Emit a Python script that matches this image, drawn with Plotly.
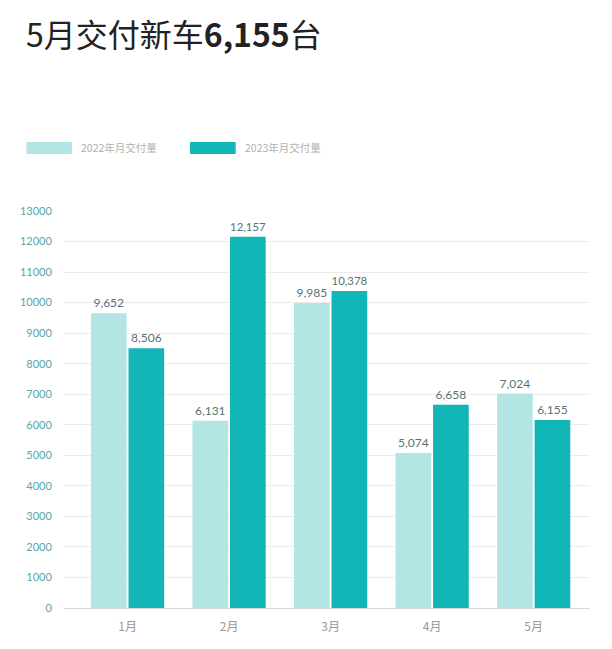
import plotly.graph_objects as go

months = ["1月", "2月", "3月", "4月", "5月"]
series_names = ["2022年月交付量", "2023年月交付量"]
deliveries_2022 = [9652, 6131, 9985, 5074, 7024]
deliveries_2023 = [8506, 12157, 10378, 6658, 6155]
y_ticks = list(range(0, 14000, 1000))

light = "#b4e5e5"
dark = "#13b6b6"
OFF = 8  # page body margin
W, H = 612 - OFF, 649 - OFF
ml, mr, mt, mb = 60 - OFF, 22, 211 - OFF, 41
pw, ph = W - ml - mr, H - mt - mb


def px_x(x):
    return (x - OFF - ml) / pw


def px_y(y):
    return (H - mb - (y - OFF)) / ph


fig = go.Figure()
for name, vals, col in [(series_names[0], deliveries_2022, light),
                        (series_names[1], deliveries_2023, dark)]:
    fig.add_trace(go.Bar(
        x=months, y=vals, name=name, marker=dict(color=col, line_width=0),
        text=[f"{v:,}" for v in vals], textposition="outside",
        textfont=dict(color="#5b7272", size=12, family="Lato"),
        cliponaxis=False, showlegend=False,
    ))

# title
fig.add_annotation(
    x=px_x(20), y=px_y(33), xref="paper", yref="paper", xanchor="left", yanchor="middle",
    text="5月交付新车<b>6,155</b>台", showarrow=False,
    font=dict(size=32, color="#222", family="Noto Sans CJK SC"),
)

# legend drawn by hand (wide swatches)
for i, (name, col) in enumerate([(series_names[0], light), (series_names[1], dark)]):
    x0 = 22 + i * 165
    fig.add_shape(type="rect", xref="paper", yref="paper",
                  x0=px_x(x0), x1=px_x(x0 + 46), y0=px_y(154), y1=px_y(142),
                  fillcolor=col, line_width=0)
    fig.add_annotation(x=px_x(x0 + 53), y=px_y(148), xref="paper", yref="paper",
                       xanchor="left", yanchor="middle", text=name, showarrow=False,
                       font=dict(size=10.5, color="#b0b0b0", family="Noto Sans CJK SC"))

fig.update_layout(
    width=W, height=H, margin=dict(l=ml, r=mr, t=mt, b=mb),
    plot_bgcolor="white", paper_bgcolor="white",
    barmode="group", bargap=0.26, bargroupgap=0.05,
    font=dict(family="Noto Sans CJK SC"),
)
fig.update_xaxes(range=[-0.626, 4.555], showgrid=False, showline=False, zeroline=False,
                 tickfont=dict(size=12, color="#999999"), ticks="outside",
                 ticklen=8, tickcolor="rgba(0,0,0,0)")
fig.update_yaxes(range=[0, 13000], tickvals=y_ticks, ticktext=[str(v) for v in y_ticks],
                 showgrid=True, gridcolor="#ececec", gridwidth=1,
                 zeroline=True, zerolinecolor="#d8d8d8", zerolinewidth=1,
                 tickfont=dict(size=11, color="#5aa5a5", family="Lato"),
                 ticks="outside", ticklen=9, tickcolor="rgba(0,0,0,0)")

fig.write_html("out.html")
